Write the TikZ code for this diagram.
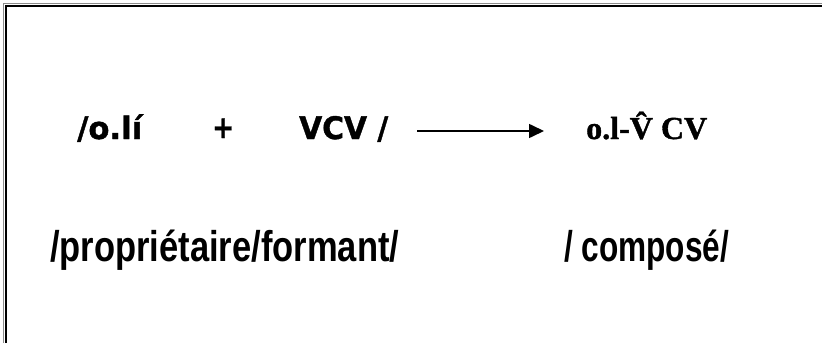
\documentclass[tikz,border=0pt]{standalone}
\usepackage{fontspec}
\usepackage{graphicx}
\usetikzlibrary{arrows.meta}
\newfontfamily\topfont[BoldFeatures={FakeBold=1.2}]{DejaVu Sans}
\newfontfamily\resfont[BoldFeatures={FakeBold=1.2}]{Liberation Serif}
\newfontfamily\botfont{Liberation Sans}
\newcommand\fitw[2]{\resizebox{#1}{\height}{#2}}
\tikzset{
  frameline/.style={line width=2pt, black},
  frameshade/.style={line width=1pt, black!45},
  toplbl/.style={anchor=base west, inner sep=0pt, font=\topfont\bfseries\fontsize{31}{32}\selectfont},
  reslbl/.style={anchor=base west, inner sep=0pt, font=\resfont\bfseries\fontsize{32}{33}\selectfont},
  botlbl/.style={anchor=base west, inner sep=0pt, font=\botfont\bfseries\fontsize{43}{44}\selectfont},
  arr/.style={line width=1.6pt, -{Triangle[length=15pt,width=14pt]}}
}
\begin{document}
\begin{tikzpicture}[x=1pt,y=-1pt]
\useasboundingbox (0,0) rectangle (822,343);
\fill[white] (0,0) rectangle (822,343);
% frame (top and left sides)
\draw[frameshade] (3.5,343) -- (3.5,3.5) -- (822,3.5);
\draw[frameline] (5.5,343) -- (5.5,5.5) -- (822,5.5);
% first line
\node[toplbl] (oli) at (77,139) {\fitw{65pt}{/o.lí}};
\node[toplbl] (plus) at (212,138) {\fitw{22pt}{+}};
\node[toplbl] (vcv) at (299,139) {\fitw{89pt}{VCV /}};
\coordinate (as) at (417,131);
\coordinate (ae) at (544,131);
\draw[arr] (as) -- (ae);
\node[reslbl] (res) at (586,139) {\fitw{121pt}{o.l-\^{V} CV}};
% second line
\node[botlbl] (prop) at (50,261) {\fitw{349pt}{/propriétaire/formant/}};
\node[botlbl] (comp) at (564,261) {\fitw{165pt}{/ composé/}};
\end{tikzpicture}
\end{document}
